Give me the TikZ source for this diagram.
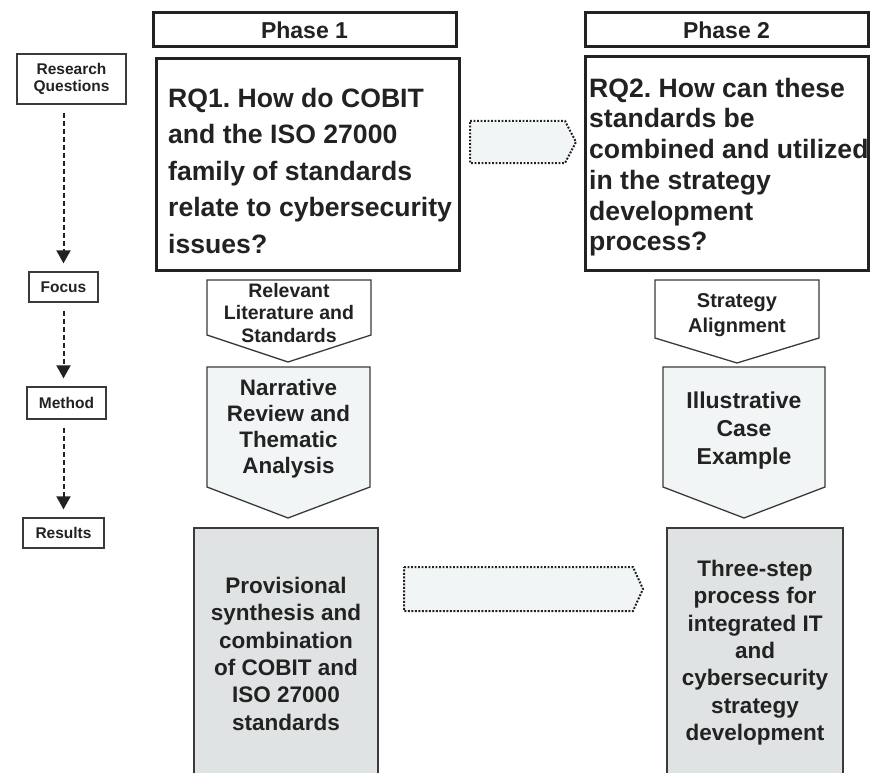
\documentclass[tikz,border=0pt]{standalone}
\usepackage{fontspec}
\setmainfont{Liberation Sans}
\usetikzlibrary{positioning}
\usetikzlibrary{arrows.meta}
\frenchspacing

\definecolor{inkgray}{HTML}{222222}
\definecolor{linegray}{HTML}{3A3A3A}
\definecolor{palefill}{HTML}{F2F5F5}
\definecolor{resultfill}{HTML}{E0E3E3}

\tikzset{
  rowlabel/.style={draw=linegray, line width=1.3pt, text=inkgray, align=center, inner sep=0pt,
    font=\bfseries\fontsize{15.5}{17}\selectfont},
  phasebox/.style={draw=inkgray, line width=3pt, text=inkgray, inner sep=0pt,
    font=\bfseries\fontsize{23}{26}\selectfont},
  rqbox/.style={draw=inkgray, line width=3pt, inner sep=0pt},
  bodytext/.style={align=center, inner sep=0pt, text=inkgray, anchor=north},
  pentagon/.style={draw=linegray, line width=1.3pt},
  resultbox/.style={draw=linegray, line width=2pt, fill=resultfill},
  linkarrow/.style={draw=inkgray, line width=2pt, dash pattern=on 1.9pt off 1.6pt, fill=palefill},
  flow/.style={draw=inkgray, line width=2pt, dash pattern=on 5pt off 3pt,
    -{Triangle[width=14pt, length=13pt]}, shorten <=8pt, shorten >=8pt}
}

\begin{document}
\begin{tikzpicture}[x=1pt, y=-1pt]
  \useasboundingbox (0,0) rectangle (880,773);

  % row labels on the left
  \node[rowlabel, minimum width=109pt, minimum height=50pt] (rq_label) at (71.5,79) {Research\\Questions};
  \node[rowlabel, minimum width=69pt, minimum height=30pt] (focus_label) at (63.5,287) {Focus};
  \node[rowlabel, minimum width=79pt, minimum height=32pt] (method_label) at (66.5,403) {Method};
  \node[rowlabel, minimum width=81pt, minimum height=30pt] (results_label) at (63.5,533) {Results};

  \draw[flow] (rq_label.south -| focus_label.north) -- (focus_label.north);
  \draw[flow] (focus_label.south) -- (method_label.north -| focus_label.south);
  \draw[flow] (method_label.south -| focus_label.south) -- (results_label.north -| focus_label.south);

  % phase headers and research questions
  \node[phasebox, minimum width=303pt, minimum height=34pt] (phase_1) at (304.5,30) {Phase 1};
  \node[phasebox, minimum width=283pt, minimum height=34pt] (phase_2) at (726.5,30) {Phase 2};

  \node[rqbox, minimum width=303pt, minimum height=211pt] (rq_1) at (307.5,164.5) {};
  \node[rqbox, minimum width=283pt, minimum height=213pt] (rq_2) at (726.5,163.5) {};
  \node[bodytext, anchor=north west, align=left, font=\bfseries\fontsize{26.6}{36.5}\selectfont]
    (rq_1_text) at (168,87.8) {RQ1. How do COBIT\\and the ISO 27000\\family of standards\\relate to cybersecurity\\issues?};
  \node[bodytext, anchor=north west, align=left, font=\bfseries\fontsize{26.6}{30.7}\selectfont]
    (rq_2_text) at (589,77.8) {RQ2. How can these\\standards be\\combined and utilized\\in the strategy\\development\\process?};

  \draw[linkarrow] (470,121) -- (565,121) -- (576,142) -- (565,163) -- (470,163) -- cycle;

  % focus
  \draw[pentagon, fill=white] (207,280) -- (371,280) -- (371,335) -- (288,362) -- (207,335) -- cycle;
  \draw[pentagon, fill=white] (655,280) -- (819,280) -- (819,338) -- (737,363) -- (655,338) -- cycle;
  \node[bodytext, font=\bfseries\fontsize{19.5}{22.5}\selectfont] (focus_1) at (289,283)
    {Relevant\\Literature and\\Standards};
  \node[bodytext, font=\bfseries\fontsize{20}{25}\selectfont] (focus_2) at (737,293.6)
    {Strategy\\Alignment};

  % method
  \draw[pentagon, fill=palefill] (207,367) -- (370,367) -- (370,487) -- (288,518) -- (207,487) -- cycle;
  \draw[pentagon, fill=palefill] (663,367) -- (825,367) -- (825,487) -- (744,518) -- (663,487) -- cycle;
  \node[bodytext, font=\bfseries\fontsize{22.4}{26}\selectfont] (method_1) at (288.5,378.9)
    {Narrative\\Review and\\Thematic\\Analysis};
  \node[bodytext, font=\bfseries\fontsize{23}{28}\selectfont] (method_2) at (744,391.4)
    {Illustrative\\Case\\Example};

  % results
  \draw[resultbox] (194,528) rectangle (378,790);
  \draw[resultbox] (667,528) rectangle (843,790);
  \node[bodytext, font=\bfseries\fontsize{22.5}{27.4}\selectfont] (result_1) at (286,576.8)
    {Provisional\\synthesis and\\combination\\of COBIT and\\ISO 27000\\standards};
  \node[bodytext, font=\bfseries\fontsize{22.5}{27.4}\selectfont] (result_2) at (755,559.8)
    {Three-step\\process for\\integrated IT\\and\\cybersecurity\\strategy\\development};

  \draw[linkarrow] (404,567) -- (633,567) -- (643,589) -- (633,611) -- (404,611) -- cycle;
\end{tikzpicture}
\end{document}
